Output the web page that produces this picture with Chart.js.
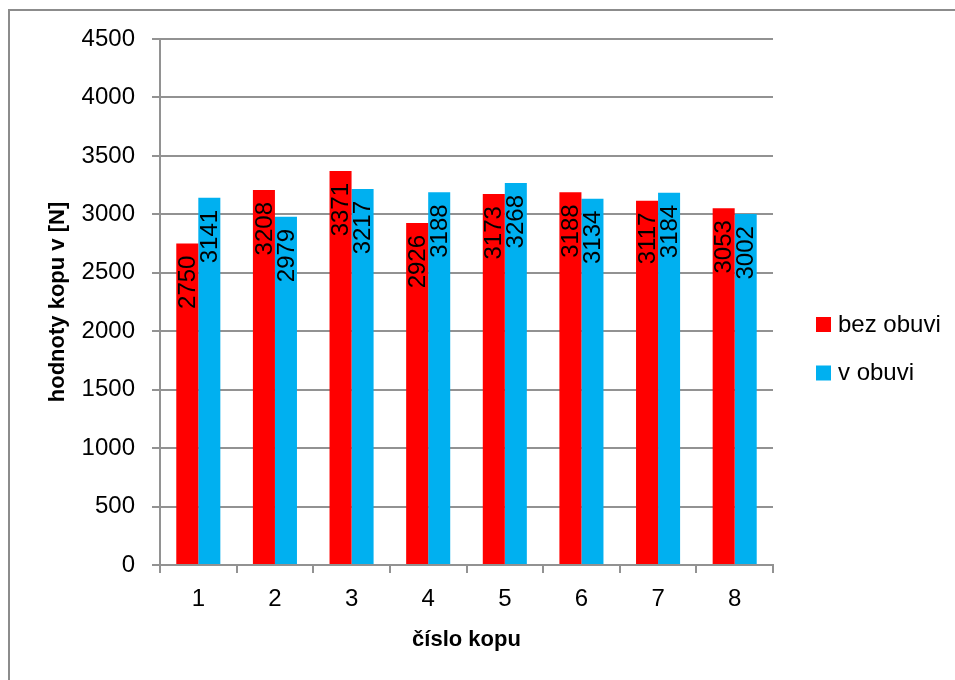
<!DOCTYPE html>
<html>
<head>
<meta charset="utf-8">
<title>hodnoty kopu</title>
<script src="https://cdn.jsdelivr.net/npm/chart.js@4/dist/chart.umd.min.js"></script>
<style>
  html, body { margin: 0; padding: 0; background: #ffffff; }
  canvas { display: block; }
</style>
</head>
<body>
<canvas id="chart" width="955" height="680"></canvas>
<script>
// Kick number (category axis)
const kicks = ['1', '2', '3', '4', '5', '6', '7', '8'];
// Kick force in newtons, without and with footwear
const bezObuvi = [2750, 3208, 3371, 2926, 3173, 3188, 3117, 3053];
const vObuvi   = [3141, 2979, 3217, 3188, 3268, 3134, 3184, 3002];
// Series names
const seriesNames = ['bez obuvi', 'v obuvi'];
// Value axis ticks
const yMin = 0, yMax = 4500, yStep = 500;

const FONT = "'Liberation Sans', Arial, sans-serif";
const GRID = '#929292';
const RED = '#FF0000';
const BLUE = '#00B0F0';

// Outer frame, rotated value labels and the legend on the right
const decorations = {
  id: 'decorations',
  beforeDraw(chart) {
    const ctx = chart.ctx;
    ctx.save();
    ctx.fillStyle = '#ffffff';
    ctx.fillRect(0, 0, chart.width, chart.height);
    ctx.strokeStyle = '#8c8c8c';
    ctx.lineWidth = 2;
    ctx.strokeRect(9, 10, chart.width + 20, chart.height + 20);
    ctx.restore();
  },
  afterDatasetsDraw(chart) {
    const ctx = chart.ctx;
    ctx.save();
    ctx.font = '24px ' + FONT;
    ctx.fillStyle = '#000000';
    ctx.textAlign = 'right';
    ctx.textBaseline = 'middle';
    chart.data.datasets.forEach((ds, di) => {
      const meta = chart.getDatasetMeta(di);
      meta.data.forEach((bar, i) => {
        ctx.save();
        ctx.translate(bar.x, bar.y);
        ctx.rotate(-Math.PI / 2);
        ctx.fillText(String(ds.data[i]), -12, 1);
        ctx.restore();
      });
    });
    ctx.restore();
  },
  afterDraw(chart) {
    const ctx = chart.ctx;
    ctx.save();
    ctx.font = '24px ' + FONT;
    ctx.textAlign = 'left';
    ctx.textBaseline = 'middle';
    chart.data.datasets.forEach((ds, di) => {
      const y = 317 + di * 48.5;
      ctx.fillStyle = ds.backgroundColor;
      ctx.fillRect(816, y, 15, 15);
      ctx.fillStyle = '#000000';
      ctx.fillText(ds.label, 838, y + 8);
    });
    ctx.restore();
  }
};

new Chart(document.getElementById('chart'), {
  type: 'bar',
  data: {
    labels: kicks,
    datasets: [
      { label: seriesNames[0], data: bezObuvi, backgroundColor: RED },
      { label: seriesNames[1], data: vObuvi, backgroundColor: BLUE }
    ]
  },
  options: {
    responsive: false,
    animation: false,
    events: [],
    layout: { padding: { top: 39, right: 182, bottom: 0, left: 0 } },
    datasets: { bar: { categoryPercentage: 0.575, barPercentage: 1.0 } },
    plugins: {
      legend: { display: false },
      tooltip: { enabled: false }
    },
    scales: {
      x: {
        afterFit(scale) { scale.height = 115; },
        grid: {
          offset: true,
          drawOnChartArea: false,
          drawTicks: true,
          tickLength: 8,
          color: GRID,
          lineWidth: 2
        },
        border: { color: GRID, width: 2 },
        ticks: {
          color: '#000000',
          padding: 12,
          font: { family: FONT, size: 24, lineHeight: 1.2 }
        },
        title: {
          display: true,
          text: 'číslo kopu',
          color: '#000000',
          font: { family: FONT, size: 22, weight: 'bold', lineHeight: 1.2 },
          padding: { top: 0, bottom: 26.8 }
        }
      },
      y: {
        min: yMin,
        max: yMax,
        afterFit(scale) { scale.width = 160; },
        grid: {
          color: GRID,
          lineWidth: 2,
          drawTicks: true,
          tickLength: 8
        },
        border: { color: GRID, width: 2 },
        ticks: {
          stepSize: yStep,
          color: '#000000',
          padding: 17,
          font: { family: FONT, size: 24, lineHeight: 1.2 },
          callback: (v) => String(v)
        },
        title: {
          display: true,
          text: 'hodnoty kopu v [N]',
          color: '#000000',
          font: { family: FONT, size: 22, weight: 'bold', lineHeight: 1.2 },
          padding: { top: 44.8, bottom: 0 }
        }
      }
    }
  },
  plugins: [decorations]
});
</script>
</body>
</html>
